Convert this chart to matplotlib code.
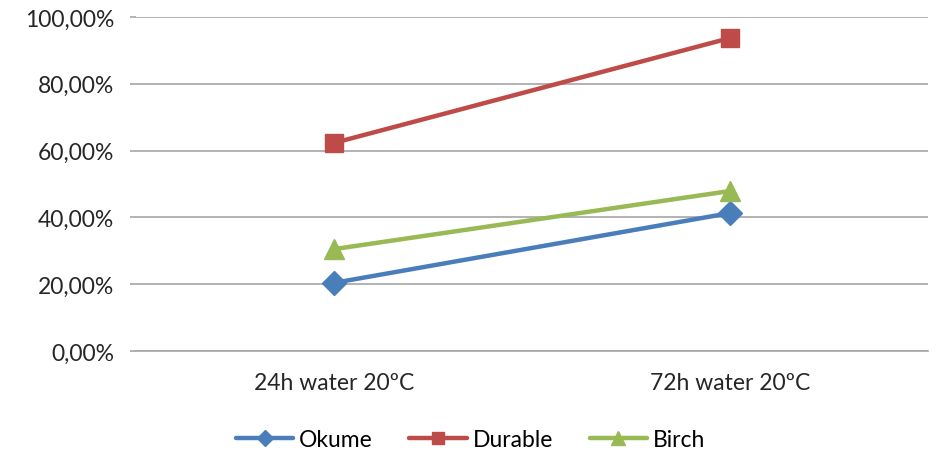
import matplotlib.pyplot as plt
from matplotlib.ticker import FuncFormatter

categories = ['24h water 20ºC', '72h water 20ºC']
okume = [20.4, 41.3]
durable = [62.3, 93.7]
birch = [30.5, 47.9]

plt.rcParams['font.family'] = ['Lato', 'DejaVu Sans']

fig = plt.figure(figsize=(9.41, 4.56), dpi=100)
ax = fig.add_axes([136 / 941, 1 - 352 / 456, (928 - 136) / 941, (352 - 18) / 456])

x = [0, 1]
series = [
    ('Okume', okume, '#4A7EBB', 'D', 12),
    ('Durable', durable, '#BE4B48', 's', 13),
    ('Birch', birch, '#98B954', '^', 14),
]
for name, vals, col, mk, ms in series:
    ax.plot(x, vals, color=col, lw=3.2, marker=mk, markersize=ms,
            markerfacecolor=col, markeredgecolor=col, label=name,
            solid_capstyle='round', zorder=3)

ax.set_xlim(-0.5, 1.5)
ax.set_ylim(0, 100)
ax.set_yticks(range(0, 101, 20))
ax.yaxis.set_major_formatter(FuncFormatter(lambda v, p: f'{v:.2f}'.replace('.', ',') + '%'))
ax.set_xticks(x)
ax.set_xticklabels(categories)

ax.grid(axis='y', color='#A6A6A6', lw=1.2, zorder=0)
for s in ['top', 'right', 'left']:
    ax.spines[s].set_visible(False)
ax.spines['bottom'].set_color('#A6A6A6')
ax.spines['bottom'].set_linewidth(1.2)
ax.tick_params(axis='y', length=4.5, color='#A6A6A6', width=1.2, labelsize=16.5,
               labelcolor='#262626', pad=11)
ax.tick_params(axis='x', length=0, labelsize=16.5, labelcolor='#262626', pad=15)

leg = fig.legend(loc='center', bbox_to_anchor=(0.5, 1 - 441 / 456), ncol=3, frameon=False,
                 fontsize=16.5, handlelength=2.5, columnspacing=1.6, handletextpad=0.25,
                 markerscale=0.7)

fig.savefig('out.png', dpi=100)
